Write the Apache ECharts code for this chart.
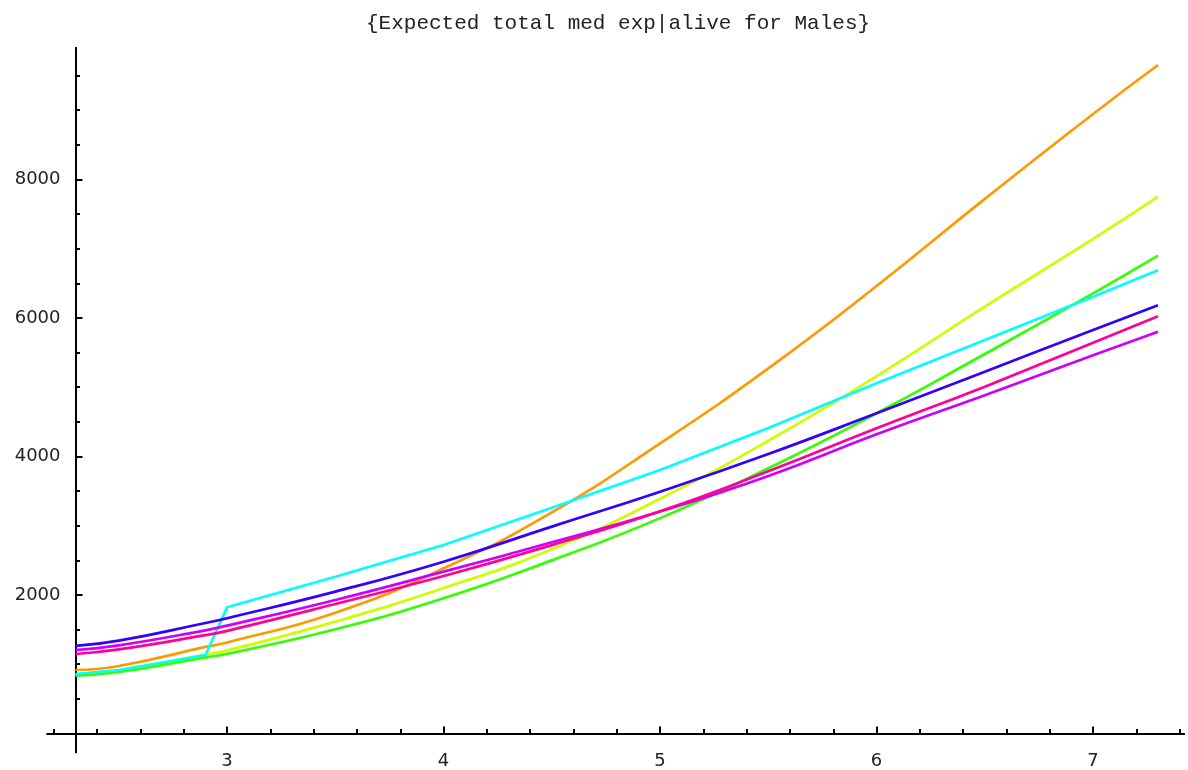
<!DOCTYPE html>
<html>
<head>
<meta charset="utf-8">
<script src="https://cdn.jsdelivr.net/npm/echarts@6/dist/echarts.min.js"></script>
<style>html,body{margin:0;padding:0;background:#fff}#c{width:1188px;height:770px}</style>
</head>
<body>
<div id="c"></div>
<script>
const titleText = '{Expected total med exp|alive for Males}';
const xs = [2.3, 2.5, 2.9, 3.0, 3.5, 4.0, 4.5, 5.0, 5.5, 6.0, 6.5, 7.0, 7.3];
const orange = [917, 975, 1250, 1315, 1745, 2385, 3194, 4190, 5273, 6462, 7720, 8946, 9653];
const yellow = [850, 902, 1140, 1200, 1615, 2100, 2660, 3390, 4228, 5160, 6164, 7141, 7752];
const green  = [835, 888, 1100, 1150, 1505, 1952, 2500, 3110, 3830, 4624, 5480, 6356, 6900];
const cyan   = [859, 917, 1134, 1822, 2264, 2722, 3261, 3805, 4412, 5057, 5682, 6308, 6689];
const blue   = [1264, 1340, 1595, 1665, 2048, 2481, 2987, 3492, 4036, 4624, 5225, 5827, 6183];
const purple = [1206, 1273, 1490, 1557, 1928, 2337, 2761, 3205, 3718, 4320, 4885, 5462, 5802];
const pink   = [1148, 1215, 1420, 1482, 1870, 2274, 2720, 3210, 3786, 4407, 5008, 5643, 6024];
const xMajor = [3, 4, 5, 6, 7];
const xMinor = [2.2, 2.4, 2.6, 2.8, 3.2, 3.4, 3.6, 3.8, 4.2, 4.4, 4.6, 4.8, 5.2, 5.4, 5.6, 5.8, 6.2, 6.4, 6.6, 6.8, 7.2, 7.4];
const yMajor = [2000, 4000, 6000, 8000];
const yMinor = [500, 1000, 1500, 2500, 3000, 3500, 4500, 5000, 5500, 6500, 7000, 7500, 8500, 9000, 9500];

const seriesDefs = [
  {name: 'orange', data: orange, color: '#FF9900', smooth: 0.5},
  {name: 'yellow', data: yellow, color: '#CCFF00', smooth: 0.5},
  {name: 'green',  data: green,  color: '#33FF00', smooth: 0.5},
  {name: 'cyan',   data: cyan,   color: '#00FFFF', smooth: false},
  {name: 'blue',   data: blue,   color: '#3300FF', smooth: 0.5},
  {name: 'purple', data: purple, color: '#CC00FF', smooth: 0.5},
  {name: 'pink',   data: pink,   color: '#FF0099', smooth: 0.5}
];

const X_MIN = 2.17, X_MAX = 7.42, Y_MIN = -270, Y_MAX = 9900;
const yAxisOffset = -28.1;
const lblFont = {fontFamily: 'DejaVu Sans', fontSize: 18, color: '#222'};
const plain = v => String(v);

const chart = echarts.init(document.getElementById('c'), null, {renderer: 'canvas'});
chart.setOption({
  animation: false,
  backgroundColor: '#fff',
  title: {
    text: titleText, left: 361, top: 8,
    textStyle: {fontFamily: 'Liberation Mono', fontSize: 21, fontWeight: 'normal', color: '#222'}
  },
  grid: {left: 47.4, right: 4, top: 47.9, bottom: 17.8, containLabel: false, outerBoundsMode: 'none'},
  xAxis: [
    {
      type: 'value', min: X_MIN, max: X_MAX, position: 'bottom',
      axisLine: {show: true, onZero: true, onZeroAxisIndex: 0, lineStyle: {color: '#000', width: 2}},
      axisTick: {show: true, inside: true, length: 7, customValues: xMajor, lineStyle: {color: '#000', width: 2}},
      axisLabel: {show: true, customValues: xMajor, margin: 0, formatter: plain, ...lblFont},
      splitLine: {show: false}
    },
    {
      type: 'value', min: X_MIN, max: X_MAX, position: 'bottom',
      axisLine: {show: true, onZero: true, onZeroAxisIndex: 0, lineStyle: {color: '#000', width: 2}},
      axisTick: {show: true, inside: true, length: 4.5, customValues: xMinor, lineStyle: {color: '#000', width: 2}},
      axisLabel: {show: false},
      splitLine: {show: false}
    }
  ],
  yAxis: [
    {
      type: 'value', min: Y_MIN, max: Y_MAX, position: 'left', offset: yAxisOffset,
      axisLine: {show: true, onZero: false, lineStyle: {color: '#000', width: 2}},
      axisTick: {show: true, inside: true, length: 7, customValues: yMajor, lineStyle: {color: '#000', width: 2}},
      axisLabel: {show: true, customValues: yMajor, margin: 15, formatter: plain, ...lblFont},
      splitLine: {show: false}
    },
    {
      type: 'value', min: Y_MIN, max: Y_MAX, position: 'left', offset: yAxisOffset,
      axisLine: {show: true, onZero: false, lineStyle: {color: '#000', width: 2}},
      axisTick: {show: true, inside: true, length: 4.5, customValues: yMinor, lineStyle: {color: '#000', width: 2}},
      axisLabel: {show: false},
      splitLine: {show: false}
    }
  ],
  series: seriesDefs.map(s => ({
    name: s.name, type: 'line', xAxisIndex: 0, yAxisIndex: 0,
    data: xs.map((x, i) => [x, s.data[i]]),
    showSymbol: false, smooth: s.smooth,
    lineStyle: {color: s.color, width: 2.7},
    itemStyle: {color: s.color}
  }))
});
</script>
</body>
</html>
